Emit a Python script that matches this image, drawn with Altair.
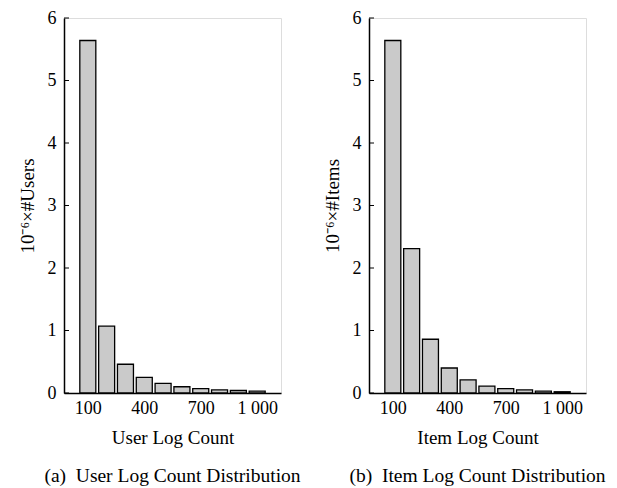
import altair as alt
import pandas as pd

# ---- data ----
log_count = [100, 200, 300, 400, 500, 600, 700, 800, 900, 1000]
user_counts = [5.64, 1.07, 0.46, 0.25, 0.155, 0.10, 0.07, 0.05, 0.04, 0.03]
item_counts = [5.64, 2.31, 0.86, 0.40, 0.21, 0.11, 0.07, 0.05, 0.03, 0.02]
x_tick_values = [100, 400, 700, 1000]
x_tick_labels = ["100", "400", "700", "1 000"]
y_tick_values = [0, 1, 2, 3, 4, 5, 6]

FONT = "Liberation Serif"

label_expr = " : ".join(
    f"datum.value == {v} ? '{l}'" for v, l in zip(x_tick_values, x_tick_labels)
) + " : datum.label"

axis_style = dict(
    labelFont=FONT, titleFont=FONT, labelFontSize=18, titleFontSize=19,
    labelColor="black", titleColor="black", titleFontWeight="normal",
    domainColor="black", domainWidth=1.5, grid=False, tickSize=0,
)


def panel(values, x_title, y_title, caption):
    df = pd.DataFrame({"count": log_count, "value": values})
    ticks = pd.DataFrame({"t": y_tick_values})
    x = alt.X(
        "count:Q",
        scale=alt.Scale(domain=[0, 1100], nice=False, zero=False),
        axis=alt.Axis(
            values=x_tick_values,
            labelExpr=label_expr,
            title=x_title,
            labelPadding=6,
            titlePadding=11,
            **axis_style,
        ),
    )
    y = alt.Y(
        "value:Q",
        scale=alt.Scale(domain=[0, 6], nice=False),
        axis=alt.Axis(
            values=y_tick_values,
            format="d",
            title=y_title,
            labelPadding=8,
            titlePadding=10,
            **axis_style,
        ),
    )
    bars = alt.Chart(df).mark_bar(
        size=16, fill="#cacaca", stroke="black", strokeWidth=1.3
    ).encode(x=x, y=y)
    tick_marks = alt.Chart(ticks).mark_rule(color="black", strokeWidth=1).encode(
        x=alt.value(0), x2=alt.value(5), y=alt.Y("t:Q")
    )
    return alt.layer(bars, tick_marks).properties(
        width=217,
        height=375,
        title=alt.TitleParams(
            caption, orient="bottom", anchor="middle", offset=20,
            font=FONT, fontSize=19.5, fontWeight="normal", color="black",
        ),
    )


left = panel(user_counts, "User Log Count", "10⁻⁶×#Users",
             "(a)\u00a0\u00a0User Log Count Distribution")
right = panel(item_counts, "Item Log Count", "10⁻⁶×#Items",
              "(b)\u00a0\u00a0Item Log Count Distribution")

chart = alt.hconcat(left, right, spacing=88, bounds="flush").properties(
    padding={"left": 17, "top": 8, "right": 5, "bottom": 0}
).configure_view(
    stroke="black", strokeWidth=1.5
).configure(background="white")

chart.save("out.html", embed_options={"renderer": "svg", "actions": False})
